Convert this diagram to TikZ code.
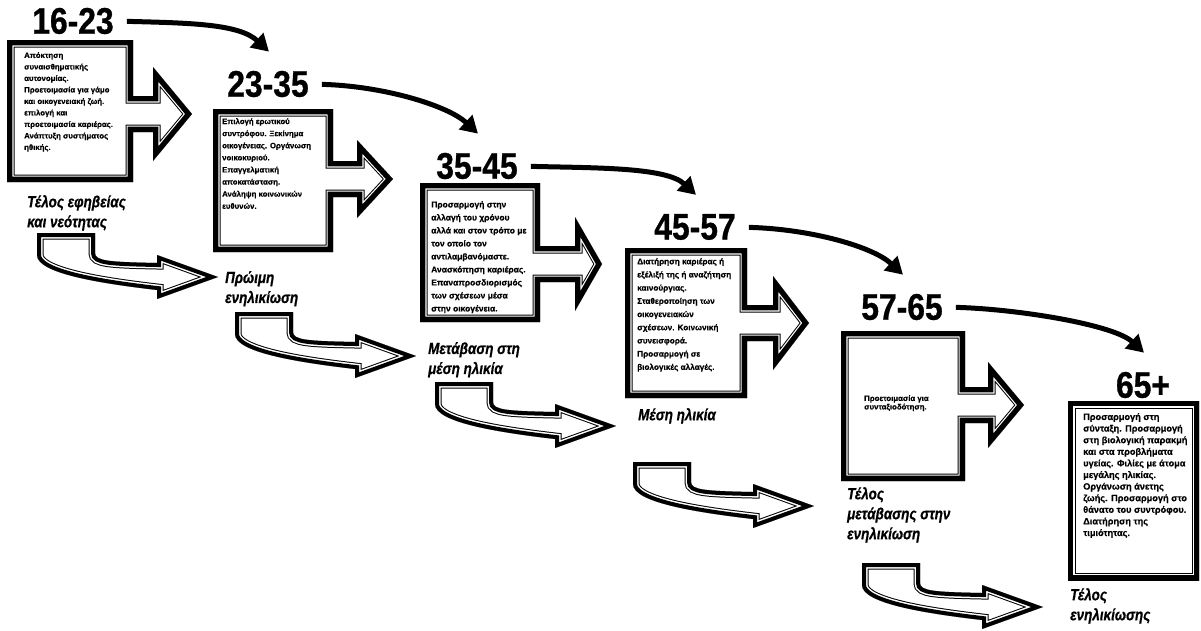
\documentclass[tikz,border=0pt]{standalone}
\usepackage{fontspec}
\setmainfont{Liberation Sans}
\newfontfamily\agefont[FakeStretch=0.86, BoldFeatures={FakeBold=0.8}]{Liberation Sans}
\newfontfamily\notefont[BoldFeatures={FakeBold=0.5}]{Liberation Sans}
\newfontfamily\tagfont[FakeStretch=0.84, BoldItalicFeatures={FakeBold=0.7}]{Liberation Sans}
\usetikzlibrary{arrows.meta,calc}
\tikzset{
  rimout/.style={line width=15pt},
  rimgap/.style={draw=white, line width=13pt},
  rimin/.style={line width=10.6pt},
  thinrim/.style={rimout/.style={line width=13pt},
                  rimgap/.style={draw=white, line width=11pt},
                  rimin/.style={line width=8pt}},
  agenum/.style={font=\agefont\bfseries\fontsize{37}{37}\selectfont, inner sep=0pt},
  notes/.style args={#1/#2}{font=\notefont\bfseries\fontsize{#1}{#2}\selectfont,
                            align=left, anchor=north west, inner sep=0pt},
  tag/.style={font=\tagfont\bfseries\itshape\fontsize{16}{20}\selectfont,
              align=left, anchor=north west, inner sep=0pt},
  jump/.style={line width=5pt, shorten <=13pt,
               -{Triangle[length=17pt, width=19pt]}},
}
% outline with a thick rim, a white gap and a thin inner line
\newcommand{\rimmed}[2][]{%
  \begin{scope}[#1]
    \clip #2;
    \fill[white] #2;
    \draw[rimout] #2;
    \draw[rimgap] #2;
    \draw[rimin] #2;
  \end{scope}}

\begin{document}
\begin{tikzpicture}[x=1pt, y=-1pt]
  \useasboundingbox (0,0) rectangle (1201,630);
  % boxes with the arrow on their right
  \foreach \xa/\ya/\xb/\yb/\xh/\xt/\yc/\hh in
      {7/40/133/182/153/192/114/47, 213/109/333/252/357/393/179/39,
       420/183/540/322/575/602/264/47, 625/248/747/398/773/809/323/47,
       841/331/965/481/988/1024/405/43} {
    \rimmed{(\xa,\ya) -- (\xb,\ya) -- (\xb,\yc-18) -- (\xh,\yc-18) -- (\xh,\yc-\hh)
            -- (\xt,\yc) -- (\xh,\yc+\hh) -- (\xh,\yc+18) -- (\xb,\yc+18)
            -- (\xb,\yb) -- (\xa,\yb) -- cycle}
  }
  \rimmed{(1068,401) rectangle (1199,580)}
  % bent arrows under the boxes
  \foreach \bx/\by in {37/233, 235/312, 435/382, 633/462, 862/563} {
    \rimmed[thinrim, shift={(\bx,\by)}]{(0,0) -- (58,0) -- (58,20)
            .. controls (58,28) and (72,29) .. (120,30) -- (120,22) -- (181,44)
            -- (120,66) -- (120,57) .. controls (60,50) and (0,40) .. (0,22) -- cycle}
  }
  % ages
  \foreach \age/\ax/\ay [count=\i] in
      {16-23/73/21, 23-35/268/84, 35-45/477/166,
       45-57/695/227, 57-65/902/307, 65+/1143/385}
    \node[agenum] (n\i) at (\ax,\ay) {\age};
  \foreach \i [evaluate=\i as \j using int(\i+1)] in {1,...,5}
    \draw[jump] (n\i.east) .. controls +(75,2) and +(-30,-28) .. ($(n\j.north)+(1,-19)$);

  \node[notes=7.8/11.5] (t1) at (24,52) {Απόκτηση\\συναισθηματικής\\αυτονομίας.\\Προετοιμασία για γάμο\\και οικογενειακή ζωή.\\επιλογή και\\προετοιμασία καριέρας.\\Ανάπτυξη συστήματος\\ηθικής.};
  \node[notes=7.8/12.1] (t2) at (222,118) {Επιλογή ερωτικού\\συντρόφου. Ξεκίνημα\\οικογένειας. Οργάνωση\\νοικοκυριού.\\Επαγγελματική\\αποκατάσταση.\\Ανάληψη κοινωνικών\\ευθυνών.};
  \node[notes=8.5/13] (t3) at (431,201) {Προσαρμογή στην\\αλλαγή του χρόνου\\αλλά και στον τρόπο με\\τον οποίο τον\\αντιλαμβανόμαστε.\\Ανασκόπηση καριέρας.\\Επαναπροσδιορισμός\\των σχέσεων μέσα\\στην οικογένεια.};
  \node[notes=8.2/13.2] (t4) at (637,258) {Διατήρηση καριέρας ή\\εξέλιξή της ή αναζήτηση\\καινούργιας.\\Σταθεροποίηση των\\οικογενειακών\\σχέσεων. Κοινωνική\\συνεισφορά.\\Προσαρμογή σε\\βιολογικές αλλαγές.};
  \node[notes=7.8/8.5] (t5) at (864,395) {Προετοιμασία για\\συνταξιοδότηση.};
  \node[notes=9.2/11.6] (t6) at (1083,413) {Προσαρμογή στη\\σύνταξη. Προσαρμογή\\στη βιολογική παρακμή\\και στα προβλήματα\\υγείας. Φιλίες με άτομα\\μεγάλης ηλικίας.\\Οργάνωση άνετης\\ζωής. Προσαρμογή στο\\θάνατο του συντρόφου.\\Διατήρηση της\\τιμιότητας.};

  \node[tag] (g1) at (27,195) {Τέλος εφηβείας\\και νεότητας};
  \node[tag] (g2) at (225,271) {Πρώιμη\\ενηλικίωση};
  \node[tag] (g3) at (428,342) {Μετάβαση στη\\μέση ηλικία};
  \node[tag] (g4) at (638,408) {Μέση ηλικία};
  \node[tag] (g5) at (847,487) {Τέλος\\μετάβασης στην\\ενηλικίωση};
  \node[tag] (g6) at (1070,588) {Τέλος\\ενηλικίωσης};
\end{tikzpicture}
\end{document}
